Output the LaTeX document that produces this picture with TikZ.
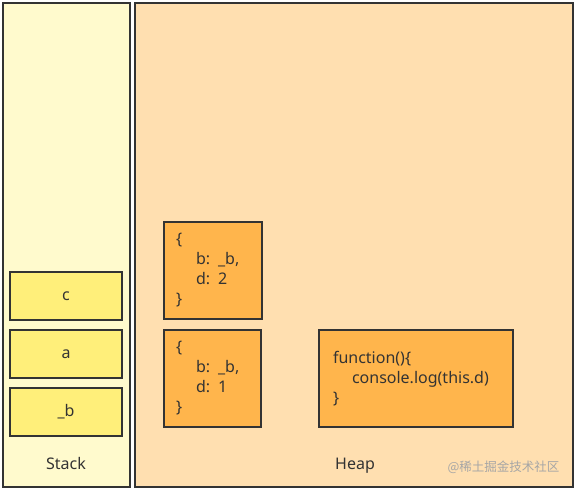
\documentclass[tikz,border=0pt]{standalone}
\usepackage{fontspec}
\setmainfont{Noto Sans}
\newfontfamily\cjk{Noto Sans CJK SC}
\definecolor{edge}{HTML}{333333}
\definecolor{stackbg}{HTML}{FFFACD}
\definecolor{heapbg}{HTML}{FFDFB0}
\definecolor{slot}{HTML}{FFEF7A}
\definecolor{obj}{HTML}{FFB54C}
\tikzset{
  panel/.style={draw=edge,line width=2pt,inner sep=0pt},
  slotbox/.style={draw=edge,line width=2pt,fill=slot,minimum width=112,minimum height=48,text=edge},
  objbox/.style={draw=edge,line width=2pt,fill=obj,minimum height=97,inner xsep=12pt,align=left,text=edge},
}
\begin{document}
\begin{tikzpicture}[x=1pt,y=-1pt,font=\fontsize{16}{20}\selectfont]
\useasboundingbox (0,0) rectangle (576,489);
\fill[white] (0,0) rectangle (576,489);
% the two areas
\draw[panel,fill=stackbg] (3,3) rectangle (130,487);
\draw[panel,fill=heapbg] (135,3) rectangle (573,487);
\node[text=edge,anchor=base] (stack) at (66,469) {Stack};
\node[text=edge,anchor=base] (heap) at (355,469) {Heap};
% variables on the stack
\node[slotbox] (c) at (66,296) {c};
\node[slotbox] (a) at (66,354) {a};
\node[slotbox] (b) at (66,412) {\_b};
% objects in the heap
\node[objbox,minimum width=98,text width=74] (objtwo) at (213,270.5)
  {\{\\\hspace*{20pt}b: \_b,\\\hspace*{20pt}d: 2\\\}};
\node[objbox,minimum width=97,text width=73] (objone) at (212.5,378.5)
  {\{\\\hspace*{20pt}b: \_b,\\\hspace*{20pt}d: 1\\\}};
\node[objbox,minimum width=194,text width=166,inner xsep=14pt] (func) at (416,378.5)
  {function()\{\\\hspace*{19pt}console.log(this.d)\\\}};
\node[anchor=east,text=black!35,font=\cjk\fontsize{12.5}{14}\selectfont] (mark) at (563,467) {@稀土掘金技术社区};
\end{tikzpicture}
\end{document}
